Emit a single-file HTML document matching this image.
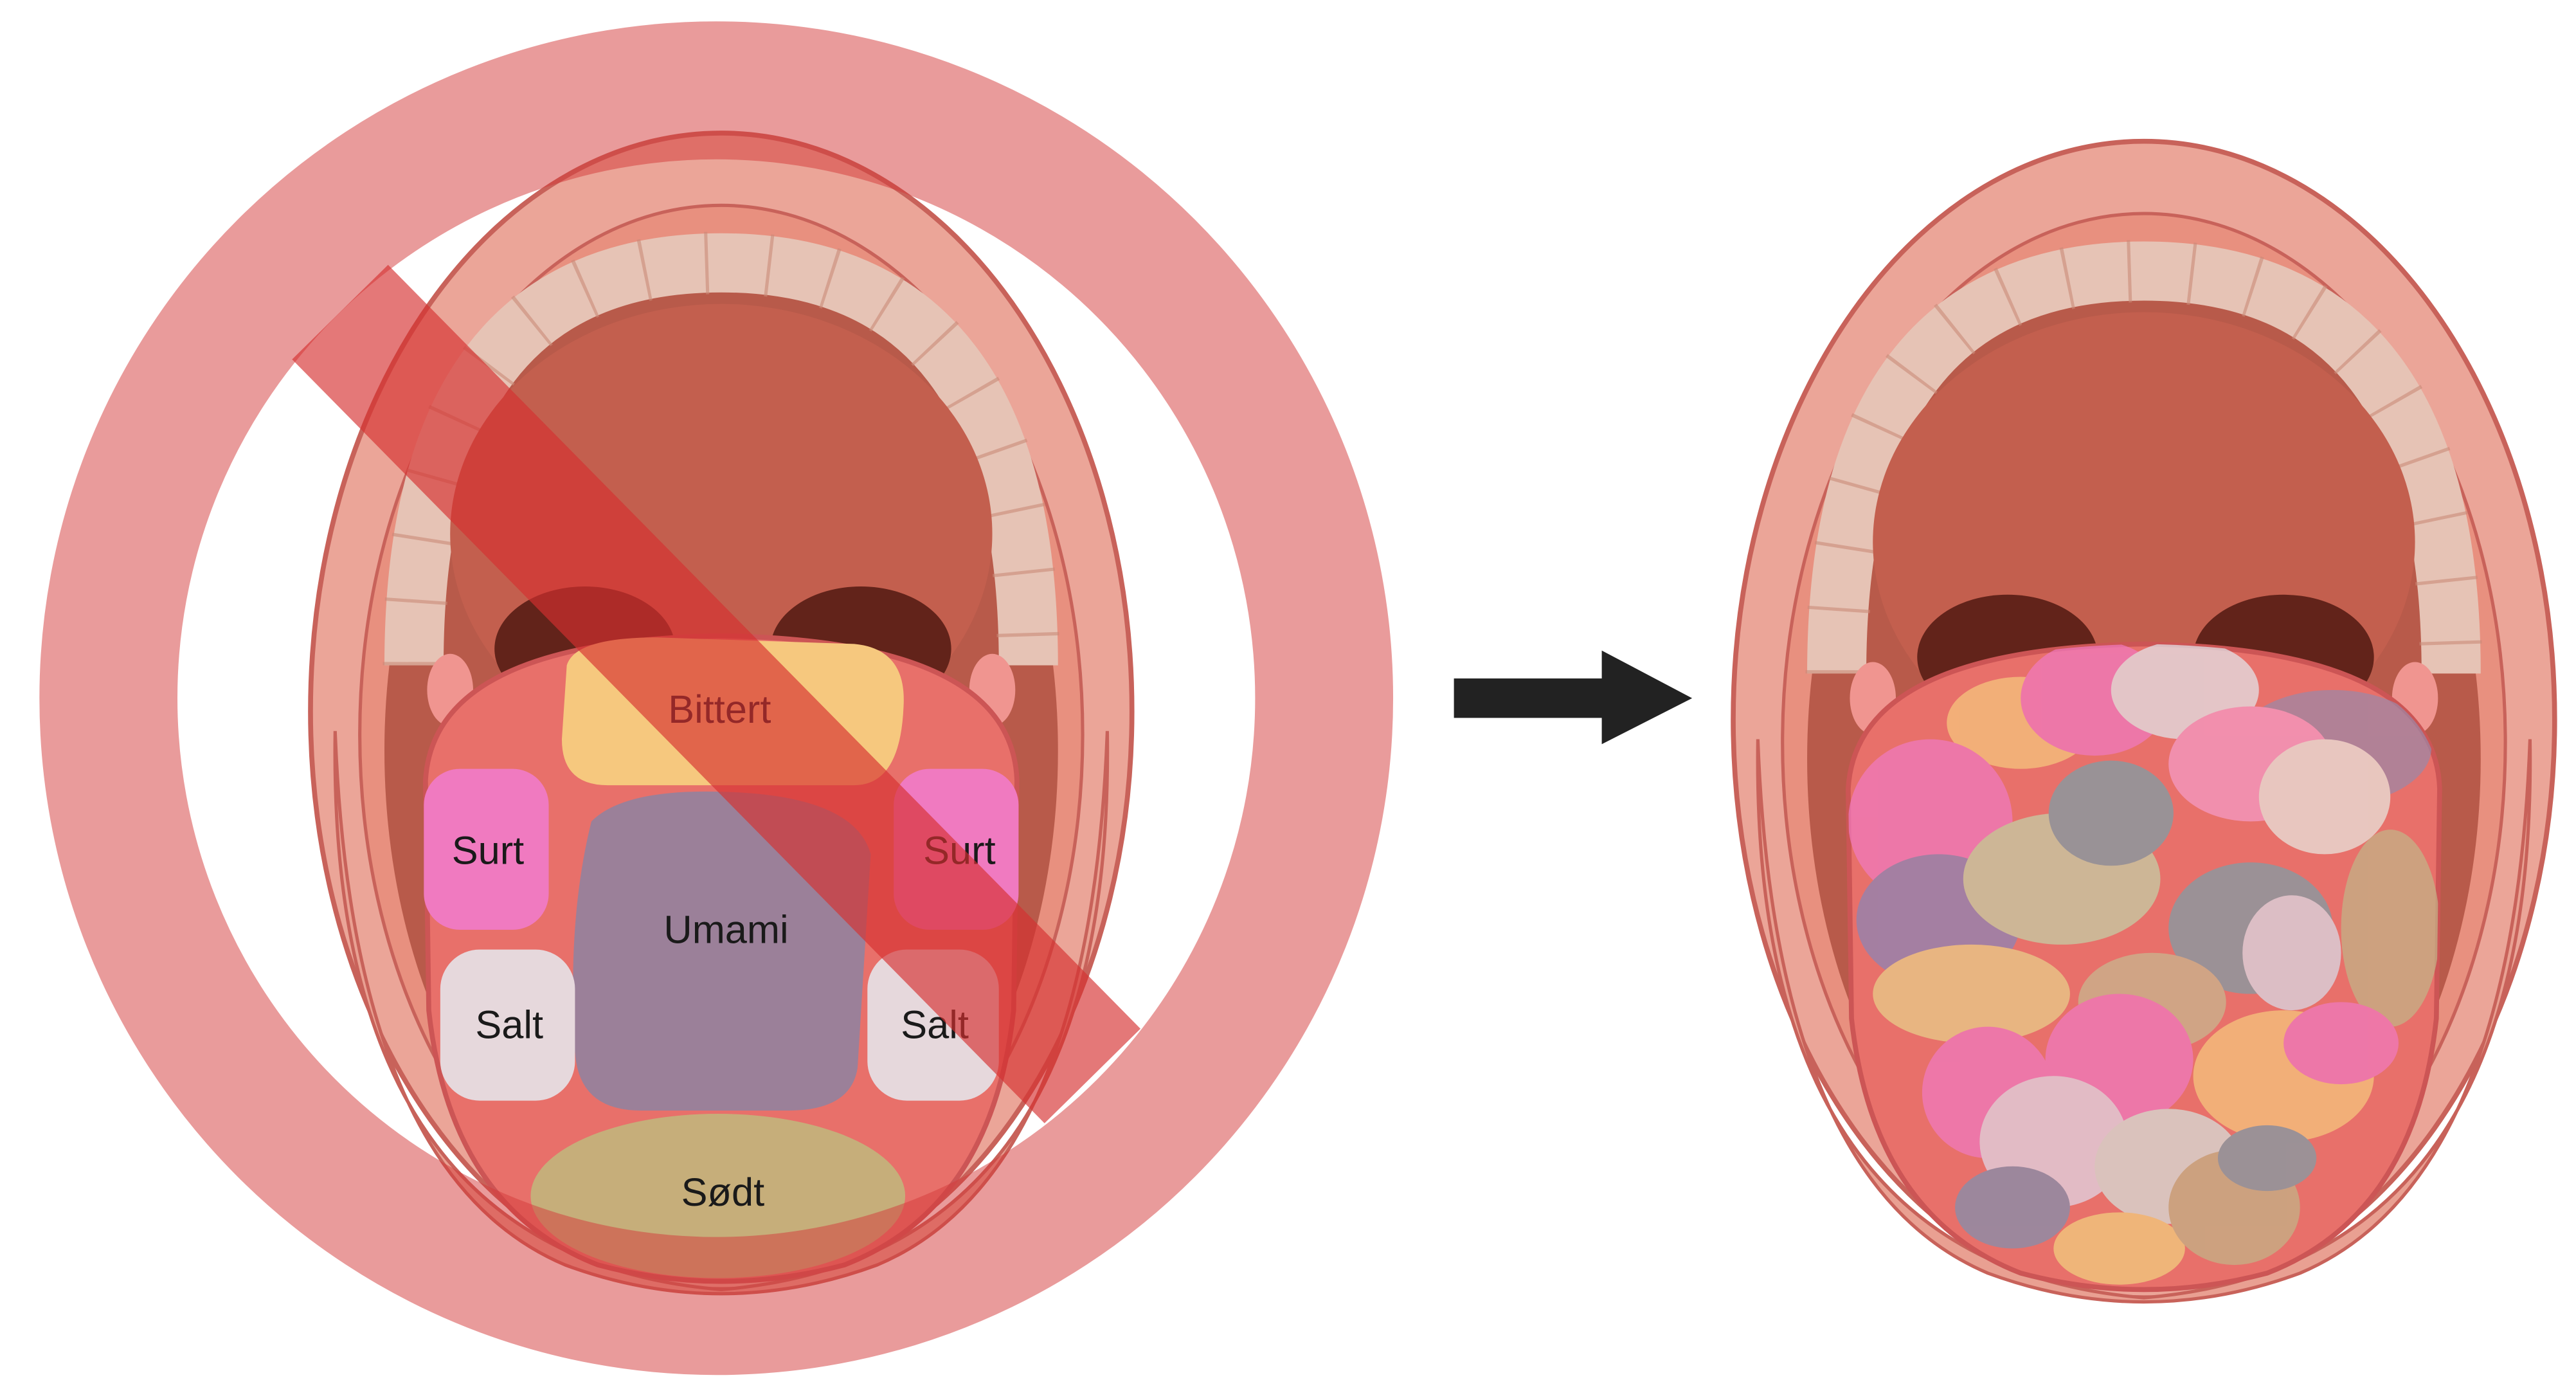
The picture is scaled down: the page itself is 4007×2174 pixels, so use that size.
<!DOCTYPE html>
<html><head><meta charset="utf-8"><style>html,body{margin:0;padding:0;background:#fff;}svg{display:block}</style></head>
<body>
<svg width="4007" height="2174" viewBox="0 0 1568 851" preserveAspectRatio="none" xmlns="http://www.w3.org/2000/svg">
<defs>
<clipPath id="tc"><path d="M1125,480 Q1130,395 1305,392 Q1482,395 1485,480 L1483,620 Q1470,740 1380,775 Q1305,795 1230,775 Q1140,740 1127,620Z"/></clipPath>
<g id="mouth">
  <ellipse cx="1305" cy="438" rx="250" ry="352" fill="#eba598" stroke="#c8625a" stroke-width="3"/>
  <ellipse cx="1305" cy="452" rx="220" ry="322" fill="#e8907f" stroke="#c8625a" stroke-width="2"/>
  <ellipse cx="1305" cy="462" rx="205" ry="305" fill="#b85a4a"/>
  <path d="M1118,410 Q1118,165 1305,165 Q1492,165 1492,410" fill="none" stroke="#e6c3b5" stroke-width="36"/>
  <path d="M1118,410 Q1118,165 1305,165 Q1492,165 1492,410" fill="none" stroke="#c98a78" stroke-width="38" stroke-dasharray="2 36" opacity="0.6"/>
  <ellipse cx="1305" cy="330" rx="165" ry="140" fill="#c35f4e"/>
  <ellipse cx="1222" cy="400" rx="55" ry="38" fill="#62231a"/>
  <ellipse cx="1390" cy="400" rx="55" ry="38" fill="#62231a"/>
  <ellipse cx="1140" cy="425" rx="14" ry="22" fill="#f09590"/>
  <ellipse cx="1470" cy="425" rx="14" ry="22" fill="#f09590"/>
  <path d="M1070,450 Q1080,720 1210,775 Q1305,810 1400,775 Q1530,720 1540,450 Q1545,770 1305,790 Q1065,770 1070,450Z" fill="#e9a092" stroke="#c8625a" stroke-width="2"/>
  <path d="M1125,480 Q1130,395 1305,392 Q1482,395 1485,480 L1483,620 Q1470,740 1380,775 Q1305,795 1230,775 Q1140,740 1127,620Z" fill="#e8706a" stroke="#cc5555" stroke-width="3"/>
</g>
</defs>

<use href="#mouth"/>
<g clip-path="url(#tc)" opacity="0.72">
  <ellipse cx="1230" cy="440" rx="45" ry="28" fill="#f6c87e"/>
  <ellipse cx="1275" cy="425" rx="45" ry="35" fill="#f07ac0"/>
  <ellipse cx="1330" cy="420" rx="45" ry="30" fill="#e2e6ec"/>
  <ellipse cx="1420" cy="455" rx="60" ry="35" fill="#9c88a8"/>
  <ellipse cx="1175" cy="500" rx="50" ry="50" fill="#f07ac0"/>
  <ellipse cx="1180" cy="560" rx="50" ry="40" fill="#8a86b8"/>
  <ellipse cx="1255" cy="535" rx="60" ry="40" fill="#c4d2a8"/>
  <ellipse cx="1285" cy="495" rx="38" ry="32" fill="#7ca0a8"/>
  <ellipse cx="1370" cy="465" rx="50" ry="35" fill="#f59cc8"/>
  <ellipse cx="1415" cy="485" rx="40" ry="35" fill="#e8e8e0"/>
  <ellipse cx="1370" cy="565" rx="50" ry="40" fill="#7e9ea8"/>
  <ellipse cx="1395" cy="580" rx="30" ry="35" fill="#d8dde8"/>
  <ellipse cx="1455" cy="565" rx="30" ry="60" fill="#c2b488"/>
  <ellipse cx="1200" cy="605" rx="60" ry="30" fill="#e8d08a"/>
  <ellipse cx="1310" cy="610" rx="45" ry="30" fill="#c8b890"/>
  <ellipse cx="1290" cy="645" rx="45" ry="40" fill="#f07ac0"/>
  <ellipse cx="1210" cy="665" rx="40" ry="40" fill="#f07ac0"/>
  <ellipse cx="1390" cy="655" rx="55" ry="40" fill="#f6c87e"/>
  <ellipse cx="1425" cy="635" rx="35" ry="25" fill="#f07ac0"/>
  <ellipse cx="1250" cy="695" rx="45" ry="40" fill="#e0d8e8"/>
  <ellipse cx="1320" cy="710" rx="45" ry="35" fill="#d6e2dc"/>
  <ellipse cx="1225" cy="735" rx="35" ry="25" fill="#8090b0"/>
  <ellipse cx="1290" cy="760" rx="40" ry="22" fill="#f2d080"/>
  <ellipse cx="1360" cy="735" rx="40" ry="35" fill="#c2b488"/>
  <ellipse cx="1380" cy="705" rx="30" ry="20" fill="#7e9ea8"/>
</g>

<use href="#mouth" transform="translate(-866,-5)"/>
<g font-family="Liberation Sans, sans-serif" font-size="24" text-anchor="middle" fill="#1a1a1a">
  <path d="M345,405 Q350,388 400,388 L520,392 Q552,395 550,430 Q548,478 520,478 L370,478 Q342,478 342,450Z" fill="#f6c87e"/>
  <rect x="258" y="468" width="76" height="98" rx="22" fill="#f07ac0"/>
  <rect x="544" y="468" width="76" height="98" rx="22" fill="#f07ac0"/>
  <path d="M360,500 Q380,480 440,482 Q520,484 530,520 L522,650 Q518,676 480,676 L390,676 Q352,676 350,640 Q345,560 360,500Z" fill="#9b8099"/>
  <rect x="268" y="578" width="82" height="92" rx="24" fill="#e6d8dc"/>
  <rect x="528" y="578" width="80" height="92" rx="24" fill="#e6d8dc"/>
  <ellipse cx="437" cy="728" rx="114" ry="50" fill="#c6ae7a"/>
  <text x="438" y="440">Bittert</text>
  <text x="297" y="526">Surt</text>
  <text x="584" y="526">Surt</text>
  <text x="442" y="574">Umami</text>
  <text x="310" y="632">Salt</text>
  <text x="569" y="632">Salt</text>
  <text x="440" y="734">Sødt</text>
</g>

<circle cx="436" cy="425" r="370" fill="none" stroke="#d43a3a" stroke-opacity="0.51" stroke-width="84"/>
<line x1="207" y1="190" x2="665" y2="655" stroke="#d63030" stroke-opacity="0.65" stroke-width="82"/>

<rect x="885" y="413" width="92" height="24" fill="#222"/>
<polygon points="975,396 1030,425 975,453" fill="#222"/>
</svg>
</body></html>
